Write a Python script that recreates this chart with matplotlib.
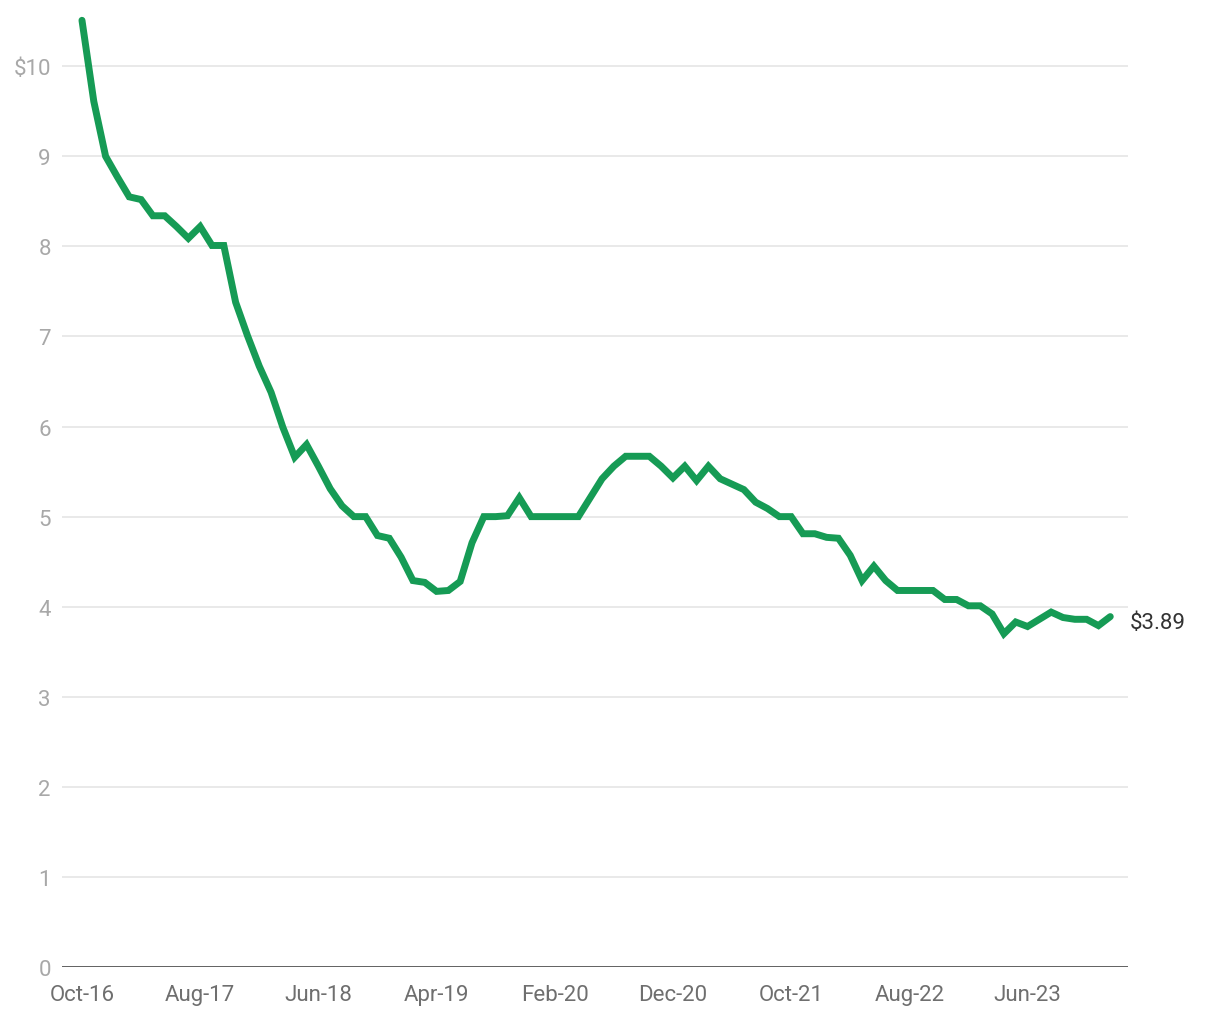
import matplotlib
matplotlib.use("Agg")
import matplotlib.pyplot as plt
import pandas as pd

# Monthly values, Oct-2016 .. Jan-2024
values = [10.51, 9.61, 9.00, 8.77, 8.55, 8.52, 8.34, 8.34, 8.22, 8.09,
          8.22, 8.01, 8.01, 7.38, 7.01, 6.67, 6.38, 5.99, 5.66, 5.80,
          5.56, 5.31, 5.12, 5.00, 5.00, 4.79, 4.76, 4.55, 4.29, 4.27,
          4.17, 4.18, 4.28, 4.71, 5.00, 5.00, 5.01, 5.21, 5.00, 5.00,
          5.00, 5.00, 5.00, 5.21, 5.42, 5.56, 5.67, 5.67, 5.67, 5.56,
          5.43, 5.56, 5.40, 5.56, 5.42, 5.36, 5.30, 5.16, 5.09, 5.00,
          5.00, 4.81, 4.81, 4.77, 4.76, 4.57, 4.29, 4.45, 4.29, 4.18,
          4.18, 4.18, 4.18, 4.08, 4.08, 4.01, 4.01, 3.92, 3.70, 3.83,
          3.78, 3.86, 3.94, 3.88, 3.86, 3.86, 3.79, 3.89]
start_month = "2016-10"
tick_step = 10
y_ticks = [0, 1, 2, 3, 4, 5, 6, 7, 8, 9, 10]
y_tick_labels = ["0", "1", "2", "3", "4", "5", "6", "7", "8", "9", "$10"]
end_label = "$3.89"

dates = pd.date_range(start_month, periods=len(values), freq="MS")
x = list(range(len(values)))
x_tick_pos = x[::tick_step]
x_tick_labels = [dates[i].strftime("%b-%y") for i in x_tick_pos]

plt.rcParams['font.family'] = ['Roboto', 'DejaVu Sans']

fig = plt.figure(figsize=(12.2, 10.2), dpi=100)
ax = fig.add_axes([62/1220, 1-968/1020, (1128-62)/1220, (968-15)/1020])

ax.plot(x, values, color="#169b55", lw=5.0, solid_joinstyle="miter",
        solid_capstyle="round", zorder=3)

ax.set_xlim(-1.69, 88.5)
ax.set_ylim(0, 10.58)

ax.set_yticks(y_ticks)
ax.set_yticklabels(y_tick_labels)
ax.set_xticks(x_tick_pos)
ax.set_xticklabels(x_tick_labels)

ax.tick_params(axis="y", length=0, pad=8, labelsize=16, labelcolor="#a8a8a8")
ax.tick_params(axis="x", length=0, pad=12, labelsize=16, labelcolor="#6f6f6f")

for yv in y_ticks[1:]:
    ax.axhline(yv, color="#e3e3e3", lw=1.1, zorder=1)
ax.axhline(0, color="#333333", lw=1.8, zorder=2)

for s in ax.spines.values():
    s.set_visible(False)

ax.annotate(end_label, xy=(x[-1], values[-1]), xytext=(14, -4),
            textcoords="offset points", fontsize=16, color="#333333",
            va="center", ha="left", annotation_clip=False)

fig.savefig("out.png", dpi=100, facecolor="white")
